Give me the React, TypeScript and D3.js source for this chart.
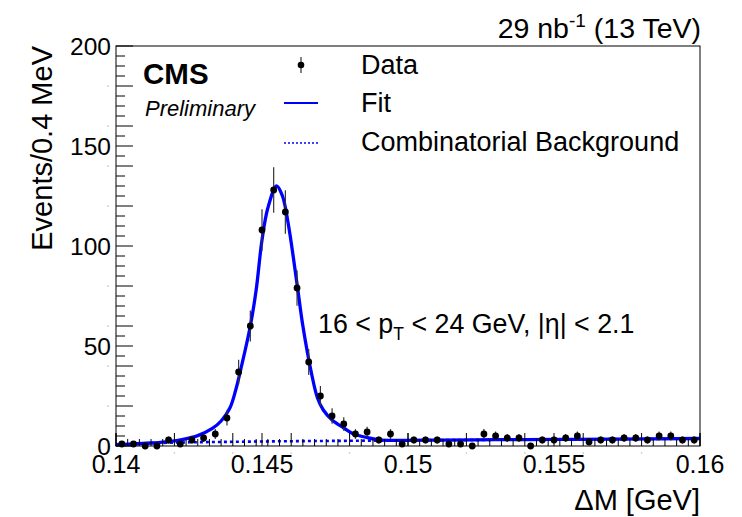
import React from "react";
import * as d3 from "d3";

// bin centres (GeV), 0.4 MeV bins
const binCenters = [
  0.1402, 0.1406, 0.1410, 0.1414, 0.1418, 0.1422, 0.1426, 0.1430, 0.1434, 0.1438,
  0.1442, 0.1446, 0.1450, 0.1454, 0.1458, 0.1462, 0.1466, 0.1470, 0.1474, 0.1478,
  0.1482, 0.1486, 0.1490, 0.1494, 0.1498, 0.1502, 0.1506, 0.1510, 0.1514, 0.1518,
  0.1522, 0.1526, 0.1530, 0.1534, 0.1538, 0.1542, 0.1546, 0.1550, 0.1554, 0.1558,
  0.1562, 0.1566, 0.1570, 0.1574, 0.1578, 0.1582, 0.1586, 0.1590, 0.1594, 0.1598,
];
const counts = [
  1, 1, 0, 0, 3, 1, 3, 4, 6, 14,
  37, 60, 108, 128, 117, 79, 42, 25, 15, 11,
  6, 7, 3, 6, 1, 3, 3, 3, 1, 1,
  0, 6, 5, 4, 4, 0, 3, 3, 4, 5,
  2, 3, 3, 4, 4, 3, 5, 5, 3, 3,
];

// fit curve
const fitX = [
  0.1400, 0.1406, 0.1412, 0.1418, 0.1423, 0.1428, 0.1433, 0.1436, 0.1439, 0.1441,
  0.1443, 0.1446, 0.1448, 0.1450, 0.1452, 0.1455, 0.1457, 0.1459, 0.1462, 0.1464,
  0.1467, 0.1469, 0.1471, 0.1474, 0.1478, 0.1481, 0.1486, 0.1490, 0.1497, 0.1510,
  0.1530, 0.1550, 0.1570, 0.1600,
];
const fitY = [
  0.7, 1.0, 1.5, 2.2, 3.3, 5.2, 8.8, 12.5, 19, 28,
  40, 60, 78, 103, 119, 130, 125, 111, 81, 60,
  36, 24, 18, 13, 9, 6.3, 4.2, 3.1, 2.85, 2.95,
  3.15, 3.3, 3.45, 3.75,
];

// combinatorial background
const bkgX = [0.1400, 0.1404, 0.1410, 0.1420, 0.1440, 0.1460, 0.1480, 0.1500, 0.1530, 0.1560, 0.1600];
const bkgY = [0.3, 0.9, 1.3, 1.7, 2.1, 2.4, 2.6, 2.85, 3.1, 3.35, 3.7];

const xMajor = [0.14, 0.145, 0.15, 0.155, 0.16];
const xMajorLabels = ["0.14", "0.145", "0.15", "0.155", "0.16"];
const yMajor = [0, 50, 100, 150, 200];

const font = "'Liberation Sans', Arial, Helvetica, sans-serif";
const blue = "#0000ff";

const App = () => {
  const W = 742, H = 517;
  const left = 116, right = 700, top = 46, bottom = 446;

  const x = d3.scaleLinear().domain([0.14, 0.16]).range([left, right]);
  const y = d3.scaleLinear().domain([0, 200]).range([bottom, top]);

  const fitLine = d3.line<number>()
    .x((d, i) => x(fitX[i]))
    .y(d => y(d))
    .curve(d3.curveCatmullRom.alpha(0.5));
  const bkgLine = d3.line<number>()
    .x((d, i) => x(bkgX[i]))
    .y(d => y(d))
    .curve(d3.curveMonotoneX);

  // ticks: short every 5 / 0.0004, long on multiples of 20 or 50 / 0.002 or 0.005
  const yMinor = d3.range(0, 201, 5);
  const xMinor = d3.range(0, 51).map(i => +(0.14 + i * 0.0004).toFixed(4));

  return (
    <svg width={W} height={H} style={{ position: "absolute", left: 0, top: 0, background: "#fff" }}
      fontFamily={font}>
      <rect x={0} y={0} width={W} height={H} fill="#fff" />

      {/* background (dotted) */}
      <path d={bkgLine(bkgY) || ""} fill="none" stroke={blue} strokeWidth={2.6} strokeDasharray="3,3" />

      {/* fit */}
      <path d={fitLine(fitY) || ""} fill="none" stroke={blue} strokeWidth={3.3} />

      {/* data */}
      {counts.map((n, i) => {
        const cx = x(binCenters[i]);
        const e = Math.sqrt(n);
        return (
          <g key={i}>
            {n > 0 && (
              <line x1={cx} x2={cx} y1={y(n + e)} y2={y(Math.max(0, n - e))} stroke="#333" strokeWidth={1.2} />
            )}
            <circle cx={cx} cy={y(n)} r={3.4} fill="#000" />
          </g>
        );
      })}

      {/* frame */}
      <rect x={left} y={top} width={right - left} height={bottom - top} fill="none" stroke="#000" strokeWidth={1} />

      {/* y axis ticks */}
      {yMinor.map(v => {
        const long = v % 20 === 0 || v % 50 === 0;
        return (
          <line key={"yt" + v} x1={left} x2={left + (long ? 17 : 9)} y1={y(v)} y2={y(v)} stroke="#000" strokeWidth={1} />
        );
      })}
      {yMinor.filter(v => v % 20 === 0 && v % 50 !== 0).map(v => (
        <circle key={"yd" + v} cx={108} cy={y(v)} r={0.8} fill="#bbb" />
      ))}
      {yMajor.map(v => (
        <text key={"yl" + v} x={111} y={y(v)} dy="0.36em" textAnchor="end" fontSize={24.5}>{v}</text>
      ))}

      {/* x axis ticks */}
      {xMinor.map((v, i) => {
        const long = i % 5 === 0;
        return (
          <line key={"xt" + i} x1={x(v)} x2={x(v)} y1={bottom} y2={bottom - (long ? 13 : 7)} stroke="#000" strokeWidth={1} />
        );
      })}
      {xMajor.map(v => (
        <line key={"xm" + v} x1={x(v)} x2={x(v)} y1={bottom} y2={bottom - 13} stroke="#000" strokeWidth={1} />
      ))}
      {xMinor.filter((v, i) => i % 5 === 0 && i % 25 !== 0).map(v => (
        <circle key={"xd" + v} cx={x(v)} cy={453} r={0.8} fill="#bbb" />
      ))}
      {xMajor.map((v, i) => (
        <text key={"xl" + v} x={x(v)} y={473} textAnchor="middle" fontSize={25}>{xMajorLabels[i]}</text>
      ))}

      {/* axis titles */}
      <text x={right} y={510} textAnchor="end" fontSize={29}>ΔM [GeV]</text>
      <text transform={`translate(52,${top}) rotate(-90)`} textAnchor="end" fontSize={29}>Events/0.4 MeV</text>

      {/* lumi */}
      <text x={701} y={38} textAnchor="end" fontSize={28.5}>
        29 nb<tspan fontSize={19} dy={-11}>-1</tspan><tspan dy={11}> (13 TeV)</tspan>
      </text>

      {/* CMS label */}
      <text x={143} y={84} fontSize={29.5} fontWeight="bold">CMS</text>
      <text x={145} y={116} fontSize={22} fontStyle="italic">Preliminary</text>

      {/* legend */}
      <line x1={301} x2={301} y1={57} y2={73} stroke="#333" strokeWidth={1.2} />
      <circle cx={301} cy={65} r={3.3} fill="#000" />
      <text x={361} y={74} fontSize={27}>Data</text>
      <line x1={284} x2={318} y1={103} y2={103} stroke={blue} strokeWidth={2} />
      <text x={361} y={112} fontSize={27}>Fit</text>
      <line x1={284} x2={318} y1={143} y2={143} stroke={blue} strokeWidth={1.5} strokeDasharray="2,2" />
      <text x={361} y={151} fontSize={27}>Combinatorial Background</text>

      {/* kinematic selection */}
      <text x={318} y={333} fontSize={26.8}>
        16 &lt; p<tspan fontSize={17.5} dy={7}>T</tspan><tspan dy={-7}> &lt; 24 GeV, |η| &lt; 2.1</tspan>
      </text>
    </svg>
  );
};

export default App;
